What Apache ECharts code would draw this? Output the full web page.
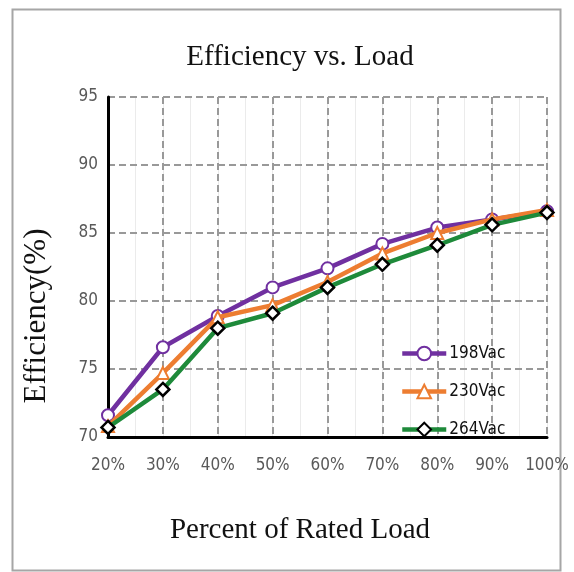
<!DOCTYPE html>
<html>
<head>
<meta charset="utf-8">
<script src="https://cdn.jsdelivr.net/npm/echarts@6/dist/echarts.min.js"></script>
<style>
html,body{margin:0;padding:0;background:#fff;}
#chart{width:574px;height:572px;}
</style>
</head>
<body>
<div id="chart"></div>
<script>
const categories = ['20%','30%','40%','50%','60%','70%','80%','90%','100%'];
const s198 = [71.6, 76.6, 78.9, 81.0, 82.4, 84.2, 85.4, 86.0, 86.6];
const s230 = [70.8, 74.7, 78.8, 79.7, 81.4, 83.5, 85.0, 86.0, 86.7];
const s264 = [70.7, 73.5, 78.0, 79.1, 81.0, 82.7, 84.1, 85.6, 86.5];
const seriesNames = ['198Vac','230Vac','264Vac'];
const yTicks = {min:70, max:95, interval:5};
const titleText = 'Efficiency vs. Load';
const xName = 'Percent of Rated Load';
const yName = 'Efficiency(%)';

const narrow = "'Liberation Sans Narrow','DejaVu Sans Condensed','Liberation Sans',sans-serif";
const serif = "'Liberation Serif','DejaVu Serif',serif";

const chart = echarts.init(document.getElementById('chart'), null, {renderer:'canvas'});
chart.setOption({
  animation:false,
  backgroundColor:'#fff',
  title:{
    text:titleText,
    left:295, textAlign:'center', top:38,
    textStyle:{fontFamily:serif, fontSize:29, fontWeight:'normal', color:'#111'}
  },
  graphic:[
    {type:'rect', left:10, top:7, shape:{width:548, height:561},
     style:{fill:'none', stroke:'#a6a6a6', lineWidth:2}, silent:true},
    {type:'text', x:300, y:530,
     style:{text:xName, fontFamily:serif, fontSize:29, fill:'#111', align:'center', verticalAlign:'middle'}},
    {type:'text', x:37, y:316, rotation:Math.PI/2,
     style:{text:yName, fontFamily:serif, fontSize:31, fill:'#111', align:'center', verticalAlign:'middle'}}
  ],
  grid:{left:108, right:27, top:97, bottom:135, containLabel:false},
  legend:{
    orient:'vertical', left:395, top:340, itemGap:21,
    itemWidth:44, itemHeight:17,
    lineStyle:{width:4.5},
    textStyle:{fontFamily:narrow, fontSize:17, color:'#111', padding:[0,0,0,-2]},
    data:seriesNames
  },
  xAxis:[{
    type:'category', data:categories, boundaryGap:false, z:2,
    axisLine:{lineStyle:{color:'#000', width:3}},
    axisTick:{show:false},
    axisLabel:{interval:0, fontFamily:narrow, fontSize:17, color:'#595959', margin:20},
    splitLine:{show:true, interval:0, lineStyle:{color:'#999', width:2, type:[7,4]}}
  },{
    type:'value', min:0, max:8, interval:0.5, position:'bottom', z:0,
    axisLine:{show:false}, axisTick:{show:false}, axisLabel:{show:false},
    splitLine:{show:true, lineStyle:{color:'#ebebeb', width:1}}
  }],
  yAxis:{
    type:'value', min:yTicks.min, max:yTicks.max, interval:yTicks.interval, z:2,
    axisLine:{show:true, lineStyle:{color:'#000', width:3}},
    axisTick:{show:false},
    axisLabel:{fontFamily:narrow, fontSize:17, color:'#595959', margin:10},
    splitLine:{show:true, lineStyle:{color:'#999', width:2, type:[7,4]}}
  },
  series:[
    {name:seriesNames[0], type:'line', data:s198, symbol:'circle', symbolSize:12,
     lineStyle:{color:'#7030A0', width:4.5}, itemStyle:{color:'#fff', borderColor:'#7030A0', borderWidth:2}, color:'#7030A0', z:3},
    {name:seriesNames[1], type:'line', data:s230, symbol:'triangle', symbolSize:12,
     lineStyle:{color:'#ED7D31', width:4.5}, itemStyle:{color:'#fff', borderColor:'#ED7D31', borderWidth:2}, color:'#ED7D31', z:4},
    {name:seriesNames[2], type:'line', data:s264, symbol:'diamond', symbolSize:13,
     lineStyle:{color:'#1E8A3A', width:4.5}, itemStyle:{color:'#fff', borderColor:'#000', borderWidth:2.5}, color:'#1E8A3A', z:5}
  ]
});
</script>
</body>
</html>
